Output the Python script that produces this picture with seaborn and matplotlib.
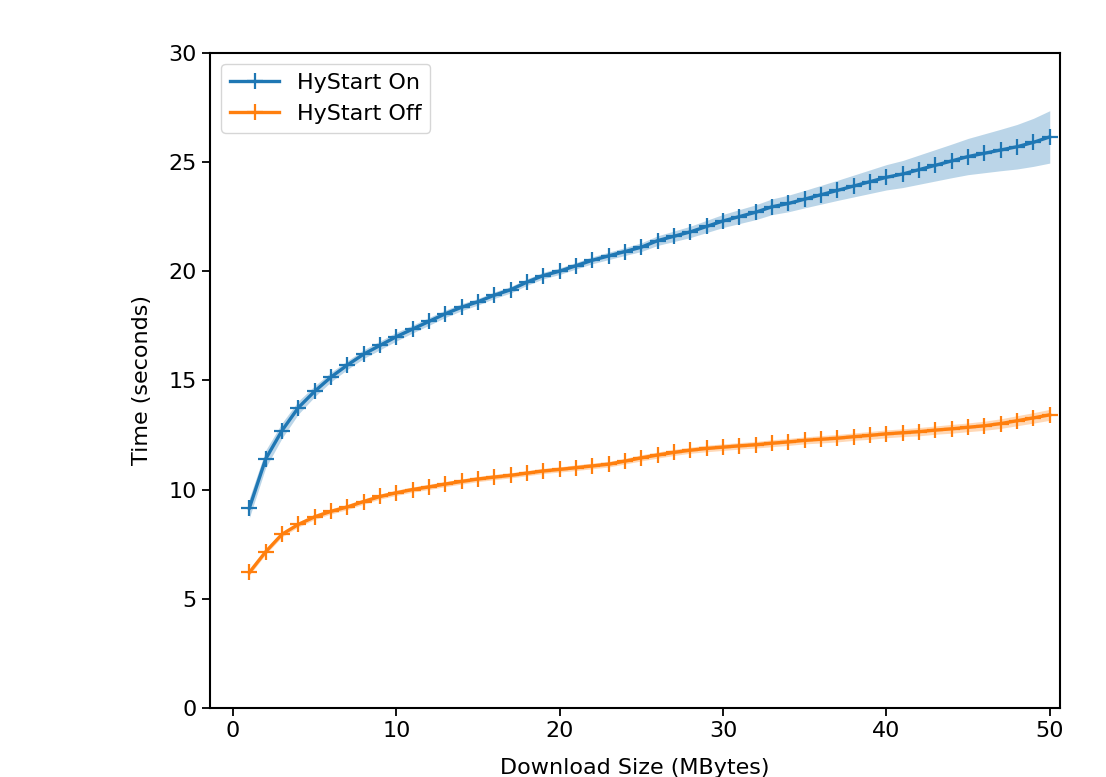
import matplotlib
matplotlib.use("Agg")
import matplotlib.pyplot as plt
import numpy as np
import pandas as pd
import seaborn as sns

# ---- data ----
sizes = list(range(1, 51))

hystart_on = [9.15, 11.4, 12.7, 13.75, 14.5, 15.15, 15.7, 16.2, 16.6, 17.0,
              17.35, 17.7, 18.05, 18.35, 18.6, 18.9, 19.15, 19.5, 19.8, 20.0,
              20.25, 20.5, 20.7, 20.9, 21.1, 21.4, 21.6, 21.8, 22.05, 22.3,
              22.5, 22.7, 22.95, 23.1, 23.3, 23.5, 23.7, 23.9, 24.1, 24.3,
              24.45, 24.65, 24.85, 25.05, 25.25, 25.4, 25.55, 25.7, 25.9, 26.15]
hystart_on_err = [0.45, 0.4, 0.35, 0.3, 0.25, 0.22, 0.2, 0.2, 0.2, 0.2,
                  0.18, 0.18, 0.17, 0.16, 0.15, 0.15, 0.15, 0.15, 0.15, 0.15,
                  0.15, 0.16, 0.17, 0.18, 0.2, 0.22, 0.24, 0.26, 0.28, 0.3,
                  0.32, 0.34, 0.36, 0.38, 0.4, 0.43, 0.46, 0.5, 0.54, 0.58,
                  0.62, 0.67, 0.72, 0.77, 0.83, 0.89, 0.95, 1.02, 1.1, 1.2]

hystart_off = [6.2, 7.15, 7.95, 8.4, 8.75, 9.0, 9.2, 9.45, 9.68, 9.85,
               10.0, 10.12, 10.25, 10.37, 10.48, 10.57, 10.65, 10.75, 10.85, 10.92,
               11.0, 11.08, 11.16, 11.3, 11.45, 11.58, 11.7, 11.8, 11.88, 11.94,
               12.0, 12.05, 12.12, 12.18, 12.25, 12.3, 12.35, 12.42, 12.48, 12.55,
               12.6, 12.65, 12.72, 12.78, 12.85, 12.92, 13.02, 13.15, 13.28, 13.42]
hystart_off_err = [0.12, 0.12, 0.12, 0.12, 0.12, 0.12, 0.12, 0.12, 0.12, 0.12,
                   0.12, 0.12, 0.12, 0.12, 0.12, 0.12, 0.12, 0.12, 0.12, 0.12,
                   0.13, 0.13, 0.13, 0.13, 0.14, 0.14, 0.14, 0.14, 0.15, 0.15,
                   0.15, 0.15, 0.16, 0.16, 0.16, 0.17, 0.17, 0.17, 0.18, 0.18,
                   0.18, 0.19, 0.19, 0.2, 0.2, 0.21, 0.22, 0.23, 0.24, 0.25]

labels = ["HyStart On", "HyStart Off"]
colors = ["#1f77b4", "#ff7f0e"]
x_ticks = [0, 10, 20, 30, 40, 50]
y_ticks = [0, 5, 10, 15, 20, 25, 30]

# ---- build table ----
df = pd.concat([
    pd.DataFrame({"size": sizes, "time": hystart_on, "err": hystart_on_err, "mode": labels[0]}),
    pd.DataFrame({"size": sizes, "time": hystart_off, "err": hystart_off_err, "mode": labels[1]}),
], ignore_index=True)

plt.rcParams["font.family"] = ["DejaVu Sans"]
fig = plt.figure(figsize=(11.06, 7.77), dpi=100)
ax = fig.add_axes([0.19, 0.089, 0.768, 0.843])

for lab, col in zip(labels, colors):
    sub = df[df["mode"] == lab]
    sns.lineplot(data=sub, x="size", y="time", color=col, label=lab,
                 marker="+", markersize=12, markeredgewidth=1.6,
                 markeredgecolor=col, linewidth=2.4, ax=ax, errorbar=None)
    ax.fill_between(sub["size"], sub["time"] - sub["err"], sub["time"] + sub["err"],
                    color=col, alpha=0.3, linewidth=0)

ax.set_xlim(-1.4, 50.6)
ax.set_ylim(0, 30)
ax.set_xticks(x_ticks)
ax.set_yticks(y_ticks)
ax.tick_params(labelsize=16, length=6, width=1.3)
for s in ax.spines.values():
    s.set_linewidth(1.5)
ax.set_xlabel("Download Size (MBytes)", fontsize=16, labelpad=12)
ax.set_ylabel("Time (seconds)", fontsize=16, labelpad=12)

handles, labs = ax.get_legend_handles_labels()
ax.legend(handles, labs, loc="upper left", fontsize=16, frameon=True,
          borderaxespad=0.5, handlelength=2.2)

fig.savefig("out.png", dpi=100)
